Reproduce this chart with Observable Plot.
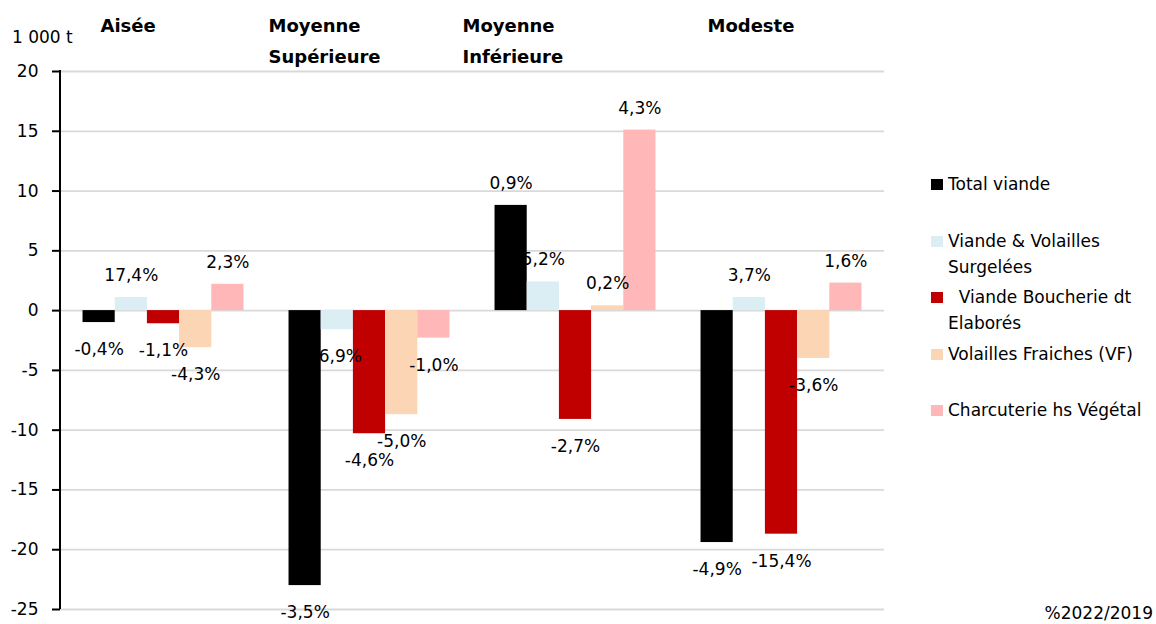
<!DOCTYPE html>
<html><head><meta charset="utf-8">
<script src="https://cdn.jsdelivr.net/npm/d3@7"></script>
<script src="https://cdn.jsdelivr.net/npm/@observablehq/plot@0.6"></script>
<style>
body{margin:0;background:#fff;}
#wrap{position:relative;width:1156px;height:624px;font-family:"DejaVu Sans",sans-serif;color:#000;overflow:hidden;}
.abs{position:absolute;font-size:17px;white-space:pre;color:#000;}
.item{line-height:26px;}
.sw{position:absolute;left:-17px;top:8px;width:12px;height:11px;}
</style></head><body><div id="wrap"><div id="chart"></div></div>
<script>
// ---- data ----
const groups = ["Aisée", "Moyenne Supérieure", "Moyenne Inférieure", "Modeste"];
const groupTitles = ["Aisée", "Moyenne\nSupérieure", "Moyenne\nInférieure", "Modeste"];
const seriesNames = ["Total viande", "Viande & Volailles Surgelées", "Viande Boucherie dt Elaborés", "Volailles Fraiches (VF)", "Charcuterie hs Végétal"];
const legendLabels = ["Total viande", "Viande & Volailles\nSurgelées", "  Viande Boucherie dt\nElaborés", "Volailles Fraiches (VF)", "Charcuterie hs Végétal"];
const colors = ["#000000", "#daeef3", "#c00000", "#fcd5b5", "#ffb7b7"];

const totalViande = [-1.0, -23.0, 8.8, -19.4];
const surgelees   = [1.1, -1.6, 2.4, 1.1];
const boucherie   = [-1.1, -10.3, -9.1, -18.7];
const volailles   = [-3.1, -8.7, 0.4, -4.0];
const charcuterie = [2.2, -2.3, 15.1, 2.3];

const pctTotal = ["-0,4%", "-3,5%", "0,9%", "-4,9%"];
const pctSurg  = ["17,4%", "-6,9%", "5,2%", "3,7%"];
const pctBouch = ["-1,1%", "-4,6%", "-2,7%", "-15,4%"];
const pctVol   = ["-4,3%", "-5,0%", "0,2%", "-3,6%"];
const pctCharc = ["2,3%", "-1,0%", "4,3%", "1,6%"];

const yTicks = [-25, -20, -15, -10, -5, 0, 5, 10, 15, 20];
const yUnit = "1 000 t";
const caption = "%2022/2019";

// ---- build table ----
const seriesValues = [totalViande, surgelees, boucherie, volailles, charcuterie];
const seriesPct = [pctTotal, pctSurg, pctBouch, pctVol, pctCharc];
const rows = [];
groups.forEach((g, i) => seriesNames.forEach((s, j) => rows.push({group: g, series: s, value: seriesValues[j][i], pct: seriesPct[j][i]})));

// ---- layout (code-side) ----
const M = {left: 60, right: 272, top: 71, bottom: 15};
const titleDx = [-63, -101, -113, -74];
const FONT = "DejaVu Sans";

const titleMarks = groups.map((g, i) => Plot.text([groupTitles[i]], {
  fx: () => g, text: d => d, frameAnchor: "top", textAnchor: "start", lineAnchor: "top",
  dx: titleDx[i], dy: -61, fontWeight: "bold", fontSize: 18, lineHeight: 1.72, fill: "#000"
}));

const chart = Plot.plot({
  width: 1156, height: 624,
  marginLeft: M.left, marginRight: M.right, marginTop: M.top, marginBottom: M.bottom,
  style: {fontFamily: FONT, fontSize: "17px", color: "#000", background: "white", overflow: "visible"},
  fx: {domain: groups, padding: 0, axis: null, round: false},
  x: {domain: seriesNames, paddingInner: 0, paddingOuter: 0.7, axis: null, round: false},
  y: {domain: [-25, 20], axis: null},
  color: {domain: seriesNames, range: colors},
  marks: [
    Plot.gridY(yTicks, {stroke: "#d9d9d9", strokeOpacity: 1, strokeWidth: 1.8}),
    Plot.axisY(yTicks, {tickSize: 8, tickPadding: 14, strokeWidth: 2, stroke: "#000", fill: "#000", fontSize: 17, tickFormat: d => String(d), facetAnchor: "left", label: null}),
    Plot.barY(rows, {fx: "group", x: "series", y: "value", fill: "series"}),
    Plot.text(rows.filter(d => d.value >= 0), {fx: "group", x: "series", y: "value", text: "pct", dy: -22, fill: "#000", fontSize: 17}),
    Plot.text(rows.filter(d => d.value < 0), {fx: "group", x: "series", y: "value", text: "pct", dy: 27, fill: "#000", fontSize: 17}),
    ...titleMarks
  ]
});

// vertical axis line, positioned through the y scale
const ys = chart.scale("y");
d3.select(chart).append("line")
  .attr("x1", M.left).attr("x2", M.left)
  .attr("y1", ys.apply(20) - 1).attr("y2", ys.apply(-25))
  .attr("stroke", "#000").attr("stroke-width", 2);

const wrap = document.getElementById("wrap");
document.getElementById("chart").appendChild(chart);

function addDiv(text, css, cls) {
  const d = document.createElement("div");
  d.className = "abs " + (cls || "");
  d.textContent = text;
  Object.assign(d.style, css);
  wrap.appendChild(d);
  return d;
}
addDiv(yUnit, {left: "12px", top: "27px", lineHeight: "20px"});
addDiv(caption, {right: "3px", top: "603px", lineHeight: "20px"});

const legendTops = [171, 228, 284, 341, 397];
legendLabels.forEach((lab, i) => {
  const d = addDiv(lab, {left: "948px", top: legendTops[i] + "px"}, "item");
  const sw = document.createElement("div");
  sw.className = "sw";
  sw.style.background = colors[i];
  d.appendChild(sw);
});
</script></body></html>
